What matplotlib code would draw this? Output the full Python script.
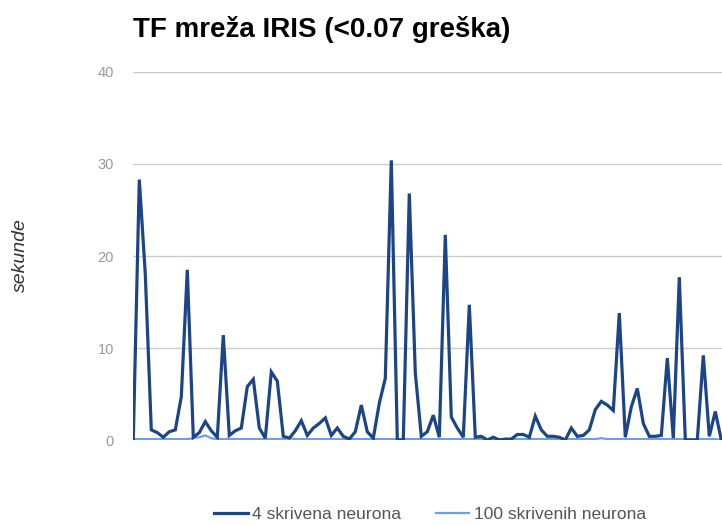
import matplotlib
matplotlib.use("Agg")
import matplotlib.pyplot as plt

title = "TF mreža IRIS (<0.07 greška)"
y_label = "sekunde"
series_names = ["4 skrivena neurona", "100 skrivenih neurona"]
y_ticks = [0, 10, 20, 30, 40]

hidden4 = [0.1, 28.3, 18.0, 1.1, 0.8, 0.3, 0.9, 1.1, 4.7, 18.5, 0.3, 0.8, 2.0, 1.0, 0.3, 11.4,
           0.5, 1.0, 1.3, 5.8, 6.6, 1.3, 0.2, 7.4, 6.4, 0.4, 0.2, 1.0, 2.1, 0.5, 1.3,
           1.8, 2.4, 0.5, 1.3, 0.4, 0.1, 0.9, 3.8, 0.9, 0.2, 4.0, 6.7, 30.4,
           0.0, 0.0, 26.8, 7.3, 0.4, 0.9, 2.7, 0.3, 22.3, 2.5, 1.3, 0.3, 14.7, 0.3, 0.4, 0.0, 0.3, 0.0,
           0.1, 0.1, 0.6, 0.6, 0.3, 2.6, 1.1, 0.4, 0.4, 0.3, 0.0, 1.3, 0.4, 0.5, 1.1, 3.3, 4.2, 3.8, 3.2, 13.8,
           0.3, 3.6, 5.6, 1.8, 0.4, 0.4, 0.5, 8.9, 0.2, 17.7, 0.0, 0.0, 0.0, 9.2, 0.4, 3.1, 0.0]

hidden100 = [0.1, 0.1, 0.1, 0.1, 0.1, 0.1, 0.1, 0.1, 0.1, 0.1, 0.2, 0.3, 0.5, 0.2, 0.1, 0.1,
             0.1, 0.1, 0.1, 0.1, 0.1, 0.1, 0.1, 0.1, 0.1, 0.1, 0.2, 0.1, 0.1, 0.1, 0.1,
             0.1, 0.1, 0.1, 0.1, 0.1, 0.1, 0.1, 0.1, 0.1, 0.1, 0.1, 0.1, 0.1,
             0.1, 0.1, 0.1, 0.1, 0.1, 0.1, 0.1, 0.1, 0.1, 0.1, 0.1, 0.1, 0.1, 0.1, 0.1, 0.1, 0.1, 0.1,
             0.1, 0.1, 0.1, 0.1, 0.1, 0.1, 0.1, 0.1, 0.1, 0.1, 0.1, 0.1, 0.1, 0.1, 0.1, 0.1, 0.2, 0.1, 0.1, 0.1,
             0.1, 0.1, 0.1, 0.1, 0.1, 0.1, 0.1, 0.1, 0.1, 0.1, 0.1, 0.1, 0.1, 0.1, 0.1, 0.1, 0.0]

x = list(range(len(hidden4)))

plt.rcParams['font.family'] = ['Liberation Sans', 'DejaVu Sans']

W, H = 722, 525
fig = plt.figure(figsize=(W / 100, H / 100), dpi=100)
left = 133.3 / W
bottom = (H - 440) / H
top = (H - 72) / H
ax = fig.add_axes([left, bottom, 600 / W, top - bottom])

ax.plot(x, hidden100, color="#6d9eeb", lw=1.6, solid_joinstyle='miter', zorder=3, label=series_names[1])
ax.plot(x, hidden4, color="#1c4587", lw=2.3, solid_joinstyle='miter', zorder=4, label=series_names[0])

ax.set_xlim(0, 100)
ax.set_ylim(0, 40)
ax.set_yticks(y_ticks)
ax.set_yticklabels([str(t) for t in y_ticks])
ax.set_xticks([])
ax.grid(axis='y', color="#cccccc", lw=1)
ax.set_axisbelow(True)
for s in ax.spines.values():
    s.set_visible(False)
ax.tick_params(axis='y', length=0, pad=14, labelsize=10.5, labelcolor="#999999")

fig.text(20 / W, (H - 255) / H, y_label, rotation=90, style='italic', fontsize=14,
         color="#333333", ha='center', va='center')
fig.text(133 / W, (H - 16) / H, title, fontsize=20, fontweight='bold', color="#000000",
         ha='left', va='top')

h, l = ax.get_legend_handles_labels()
leg = fig.legend(h[::-1], l[::-1], loc='center', bbox_to_anchor=(430 / W, (H - 514) / H),
                 ncol=2, frameon=False, fontsize=12.6, handlelength=1.9, columnspacing=2.0,
                 handletextpad=0.25, labelcolor="#555555")

fig.savefig("out.png", dpi=100)
